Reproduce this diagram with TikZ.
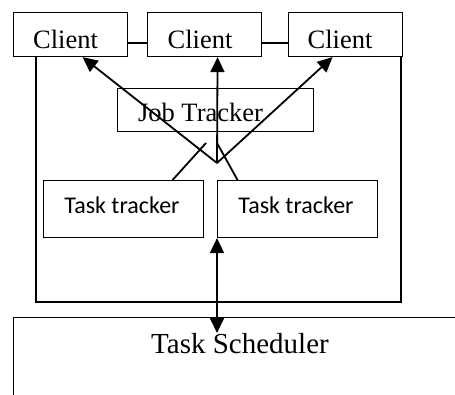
\documentclass[tikz,border=0pt]{standalone}
\usepackage{fontspec}
\setmainfont{Liberation Serif}
\newfontfamily\calibfont{Carlito}
\usetikzlibrary{arrows.meta,calc}
\tikzset{
  box/.style={draw, line width=1.1pt, fill=white, rectangle, inner sep=0pt, anchor=north west},
  lbl/.style={anchor=base, inner sep=0pt},
  serif/.style={font=\fontsize{26.5}{30}\selectfont},
  sans/.style={font=\calibfont\fontsize{24}{28}\selectfont},
  link/.style={line width=1.8pt},
  arr/.style={link, -{Triangle[length=15pt,width=14pt]}},
  darr/.style={link, {Triangle[length=15pt,width=14pt]}-{Triangle[length=15pt,width=14pt]}}
}
\begin{document}
\begin{tikzpicture}[x=1pt,y=-1pt]
\useasboundingbox (0,0) rectangle (455,394);
\clip (0,0) rectangle (455,394);
% enclosing frame behind the clients
\draw[line width=1.1pt] (36,43) rectangle (401,302);
% clients
\node[box, minimum width=114pt, minimum height=44pt] (c1) at (13,12) {};
\node[box, minimum width=114pt, minimum height=44pt] (c2) at (147,12) {};
\node[box, minimum width=114pt, minimum height=44pt] (c3) at (288,12) {};
\node[lbl, serif] (c1t) at (65.5,48) {Client};
\node[lbl, serif] (c2t) at (200,48) {Client};
\node[lbl, serif] (c3t) at (340,48) {Client};
% job tracker
\node[box, minimum width=196pt, minimum height=43pt] (jt) at (117,88) {};
\node[lbl, serif] (jtt) at (200.5,121) {Job Tracker};
% task trackers
\node[box, minimum width=160pt, minimum height=57pt] (t1) at (43,180) {};
\node[box, minimum width=160pt, minimum height=57pt] (t2) at (217,180) {};
\node[lbl, sans] (t1t) at (122,213) {Task tracker};
\node[lbl, sans] (t2t) at (296,213) {Task tracker};
% scheduler
\node[box, minimum width=470pt, minimum height=100pt] (ts) at (13,317) {};
\node[lbl, font=\fontsize{29}{33}\selectfont] (tst) at (240,353) {Task Scheduler};
% connectors
\coordinate (apex) at (217,163);
\coordinate (m1) at (206,143);
\coordinate (m2) at (217,143);
\draw[arr] (apex) -- ($(c1.south)+(12,0)$);
\draw[arr] (apex) -- ($(c2.south)+(13,0)$);
\draw[arr] (apex) -- ($(c3.south)+(-13,0)$);
\draw[link] ($(t1.north)+(49,0)$) -- (m1);
\draw[link] ($(t2.north)+(-60,0)$) -- (m2);
\draw[darr] (t2.south west) -- ($(ts.north west)+(204,16)$);
\end{tikzpicture}
\end{document}
